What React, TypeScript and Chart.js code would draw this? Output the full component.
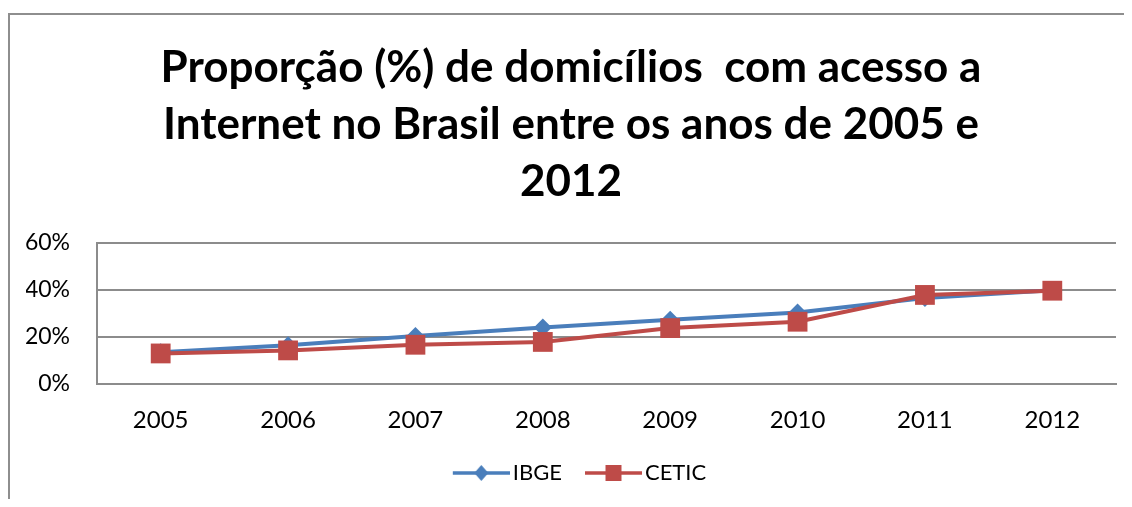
import React, { useEffect, useRef } from "react";
import { Chart, registerables } from "chart.js";

Chart.register(...registerables);

const years = ["2005", "2006", "2007", "2008", "2009", "2010", "2011", "2012"];
const ibge = [13.5, 16.5, 20.4, 24.0, 27.3, 30.4, 36.6, 39.9];
const cetic = [13.0, 14.3, 16.7, 17.9, 23.8, 26.5, 37.9, 39.7];
const yTicks = [0, 20, 40, 60];
const titleLines = [
  "Proporção (%) de domicílios  com acesso a",
  "Internet no Brasil entre os anos de 2005 e",
  "2012",
];
const seriesNames = ["IBGE", "CETIC"];

const BLUE = "#4a7ebb";
const RED = "#be4b48";
const GRID = "#8c8c8c";
const FONT = "Lato, 'Open Sans', sans-serif";

const PSW = 66; // legend point style width

// legend symbol: transparent margin on the left, line of 57px, marker in the middle
function legendImage(color: string, marker: "diamond" | "square"): HTMLCanvasElement {
  const c = document.createElement("canvas");
  c.width = PSW + 16;
  c.height = 22;
  const ctx = c.getContext("2d")!;
  const x0 = PSW - 41;
  const x1 = c.width;
  const cx = (x0 + x1) / 2;
  ctx.strokeStyle = color;
  ctx.lineWidth = 3.5;
  ctx.beginPath();
  ctx.moveTo(x0, 11);
  ctx.lineTo(x1, 11);
  ctx.stroke();
  ctx.fillStyle = color;
  ctx.beginPath();
  if (marker === "diamond") {
    ctx.moveTo(cx, 3);
    ctx.lineTo(cx + 7, 11);
    ctx.lineTo(cx, 19);
    ctx.lineTo(cx - 7, 11);
    ctx.closePath();
  } else {
    ctx.rect(cx - 8, 3, 16, 16);
  }
  ctx.fill();
  return c;
}

const borderPlugin = {
  id: "frameBorder",
  beforeDraw(chart: any) {
    const ctx = chart.ctx;
    ctx.save();
    ctx.strokeStyle = "#8e8e8e";
    ctx.lineWidth = 2;
    ctx.beginPath();
    ctx.moveTo(1, chart.height);
    ctx.lineTo(1, 6);
    ctx.lineTo(chart.width, 6);
    ctx.stroke();
    ctx.restore();
  },
};

export default function App() {
  const ref = useRef<HTMLCanvasElement | null>(null);
  useEffect(() => {
    if (!ref.current) return;
    const imgs = [legendImage(BLUE, "diamond"), legendImage(RED, "square")];
    const chart = new Chart(ref.current, {
      type: "line",
      data: {
        labels: years,
        datasets: [
          {
            label: seriesNames[0],
            data: ibge,
            borderColor: BLUE,
            backgroundColor: BLUE,
            borderWidth: 4,
            pointStyle: "rectRot",
            pointRadius: 9,
            pointBorderWidth: 0,
            order: 1,
          },
          {
            label: seriesNames[1],
            data: cetic,
            borderColor: RED,
            backgroundColor: RED,
            borderWidth: 4,
            pointStyle: "rect",
            pointRadius: 14,
            pointBorderWidth: 0,
            order: 0,
          },
        ],
      },
      options: {
        responsive: false,
        animation: false,
        layout: { padding: { left: 18, right: 16, top: 0, bottom: 5 } },
        plugins: {
          tooltip: { enabled: false },
          title: {
            display: true,
            text: titleLines,
            color: "#000",
            font: { family: FONT, size: 44, weight: "bold", lineHeight: "57px" as any },
            padding: { top: 31, bottom: 33 },
          },
          legend: {
            position: "bottom",
            labels: {
              usePointStyle: true,
              pointStyleWidth: PSW,
              padding: 6,
              color: "#000",
              font: { family: FONT, size: 22 },
              generateLabels: () =>
                seriesNames.map((n, i) => ({
                  text: n,
                  pointStyle: imgs[i] as any,
                  fillStyle: i === 0 ? BLUE : RED,
                  strokeStyle: i === 0 ? BLUE : RED,
                  lineWidth: 0,
                  hidden: false,
                  datasetIndex: i,
                  fontColor: "#000",
                })),
            },
          },
        },
        scales: {
          x: {
            offset: true,
            grid: { display: false, drawTicks: false },
            border: { display: true, color: GRID, width: 2 },
            ticks: { color: "#000", font: { family: FONT, size: 24 }, padding: 22, maxRotation: 0 },
            afterFit: (s: any) => {
              s.height = 72;
            },
          },
          y: {
            min: 0,
            max: 60,
            grid: { color: GRID, lineWidth: 2, drawTicks: false },
            border: { display: true, color: GRID, width: 2 },
            ticks: {
              color: "#000",
              font: { family: FONT, size: 23 },
              padding: 27,
              callback: (v: any) => (yTicks.includes(Number(v)) ? v + "%" : ""),
              stepSize: 20,
            },
            afterFit: (s: any) => {
              s.width = 71;
            },
          },
        },
      },
      plugins: [borderPlugin],
    });
    return () => chart.destroy();
  }, []);
  return <canvas ref={ref} width={1124} height={491} style={{ display: "block", width: 1124, height: 491 }} />;
}
